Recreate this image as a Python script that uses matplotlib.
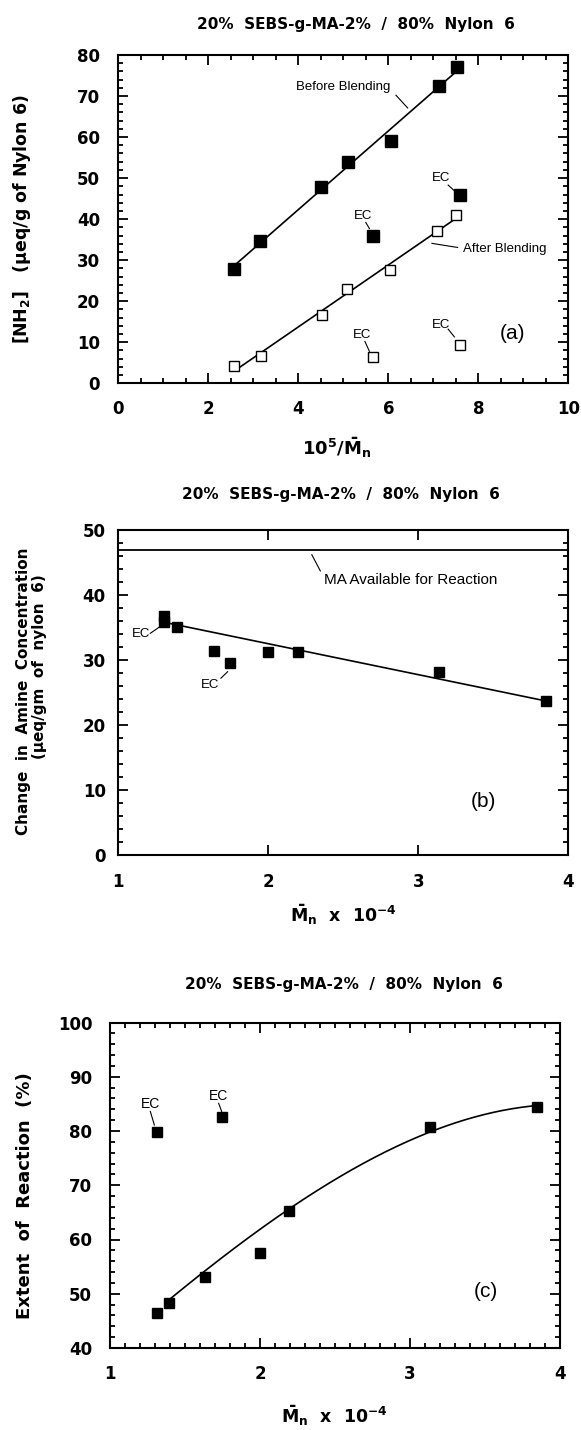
import numpy as np
import matplotlib
matplotlib.use("Agg")
import matplotlib.pyplot as plt
from matplotlib.ticker import MultipleLocator

plt.rcParams['font.family'] = ['DejaVu Sans']
plt.rcParams['mathtext.fontset'] = 'dejavusans'
plt.rcParams['mathtext.default'] = 'bf'

TITLE = "20%  SEBS-g-MA-2%  /  80%  Nylon  6"
ANN_FONT = ['Liberation Sans', 'DejaVu Sans']

# ---- Panel (a) data ----
a_before_x = [2.56, 3.15, 4.50, 5.10, 6.06, 7.12, 7.53]
a_before_y = [27.9, 34.7, 47.9, 54.0, 59.0, 72.5, 77.1]
a_before_ec_x = [5.67, 7.59]
a_before_ec_y = [35.8, 46.0]
a_after_x = [2.58, 3.16, 4.53, 5.08, 6.04, 7.08, 7.50]
a_after_y = [4.2, 6.7, 16.7, 22.9, 27.6, 37.1, 41.1]
a_after_ec_x = [5.67, 7.59]
a_after_ec_y = [6.3, 9.4]

# ---- Panel (b) data ----
b_x = [1.307, 1.39, 1.64, 2.0, 2.2, 3.135, 3.85]
b_y = [36.8, 35.1, 31.4, 31.3, 31.3, 28.1, 23.7]
b_ec_x = [1.307, 1.747]
b_ec_y = [35.9, 29.5]
b_fit_x = [1.307, 3.85]
b_fit_y = [35.8, 23.7]
b_ma_available = 47.0

# ---- Panel (c) data ----
c_x = [1.311, 1.389, 1.632, 1.996, 2.192, 3.133, 3.846]
c_y = [46.4, 48.3, 53.1, 57.6, 65.3, 80.8, 84.4]
c_ec_x = [1.309, 1.743]
c_ec_y = [79.9, 82.6]
c_curve_x = [1.39, 1.63, 2.0, 2.19, 2.45, 2.895, 3.133, 3.45, 3.695, 3.846]
c_curve_y = [48.6, 54.4, 62.4, 65.5, 69.8, 76.3, 80.5, 82.9, 84.2, 84.5]

W, H = 581, 1430
fig = plt.figure(figsize=(W / 100, H / 100), dpi=100)


def fx(px):
    return px / W


def fy(py):
    return 1 - py / H


def axes_px(left, top, right, bottom):
    return fig.add_axes([fx(left), fy(bottom), (right - left) / W, (bottom - top) / H])


TICK_FS = 12
ANN_FS = 9.5


def style_axes(ax, xpad, ypad):
    for s in ax.spines.values():
        s.set_linewidth(1.5)
    ax.tick_params(which='both', direction='in', top=True, right=True,
                   width=1.3, labelsize=TICK_FS)
    ax.tick_params(which='major', length=7)
    ax.tick_params(which='minor', length=3.5)
    ax.tick_params(axis='x', pad=xpad)
    ax.tick_params(axis='y', pad=ypad)
    for lab in ax.get_xticklabels() + ax.get_yticklabels():
        lab.set_fontweight('bold')


def ann(ax, x, y, s, fs=ANN_FS, ha='center'):
    ax.text(x, y, s, fontsize=fs, ha=ha, va='center', family=ANN_FONT)


def leader(ax, p0, p1):
    ax.plot([p0[0], p1[0]], [p0[1], p1[1]], color='black', lw=0.8)


def ec(ax, txt_xy, p0, p1, fs=ANN_FS):
    ann(ax, txt_xy[0], txt_xy[1], "EC", fs=fs)
    leader(ax, p0, p1)


def title(xc, yc):
    fig.text(fx(xc), fy(yc), TITLE, fontsize=11, fontweight='bold',
             ha='center', va='center')


# ================= Panel (a) =================
ax = axes_px(118.3, 55, 568.3, 383.3)
ax.set_xlim(0, 10)
ax.set_ylim(0, 80)
ax.xaxis.set_major_locator(MultipleLocator(2))
ax.xaxis.set_minor_locator(MultipleLocator(0.5))
ax.yaxis.set_major_locator(MultipleLocator(10))
ax.yaxis.set_minor_locator(MultipleLocator(2))

pb = np.polyfit(a_before_x, a_before_y, 1)
xs = np.array([a_before_x[0], a_before_x[-1]])
ax.plot(xs, np.polyval(pb, xs), color='black', lw=1.2)
pa = np.polyfit(a_after_x, a_after_y, 1)
xs = np.array([a_after_x[0], a_after_x[-1]])
ax.plot(xs, np.polyval(pa, xs), color='black', lw=1.2)

ax.plot(a_before_x, a_before_y, 's', color='black', ms=8)
ax.plot(a_before_ec_x, a_before_ec_y, 's', color='black', ms=8)
ax.plot(a_after_x, a_after_y, 's', mfc='white', mec='black', mew=1.0, ms=7.3)
ax.plot(a_after_ec_x, a_after_ec_y, 's', mfc='white', mec='black', mew=1.0, ms=7.3)

ann(ax, 4.99, 72.2, "Before Blending")
leader(ax, (6.17, 70.2), (6.43, 67.1))
ann(ax, 8.58, 32.7, "After Blending")
leader(ax, (7.54, 33.1), (6.97, 34.1))
ec(ax, (5.43, 40.8), (5.50, 39.2), (5.58, 37.7))
ec(ax, (7.17, 50.0), (7.33, 48.3), (7.47, 46.9))
ec(ax, (5.41, 11.8), (5.48, 10.2), (5.58, 7.8))
ec(ax, (7.17, 14.3), (7.33, 13.2), (7.47, 11.3))
ann(ax, 8.76, 12.2, "(a)", fs=15)
style_axes(ax, xpad=12, ypad=13)

title(356, 25)
fig.text(fx(337), fy(455), r"10$^{5}$/$\bar{M}_{n}$", fontsize=13, fontweight='bold',
         ha='center', va='baseline')
fig.text(fx(22), fy(219), r"[NH$_{2}$]   (μeq/g of Nylon 6)", fontsize=12.5,
         fontweight='bold', rotation=90, ha='center', va='center')

# ================= Panel (b) =================
ax = axes_px(118.3, 530, 568.3, 855)
ax.set_xlim(1, 4)
ax.set_ylim(0, 50)
ax.xaxis.set_major_locator(MultipleLocator(1))
ax.yaxis.set_major_locator(MultipleLocator(10))
ax.yaxis.set_minor_locator(MultipleLocator(2))

ax.axhline(b_ma_available, color='black', lw=1.3)
ax.plot(b_fit_x, b_fit_y, color='black', lw=1.2)
ax.plot(b_x, b_y, 's', color='black', ms=7.5)
ax.plot(b_ec_x, b_ec_y, 's', color='black', ms=7.5)

ann(ax, 2.373, 42.3, "MA Available for Reaction", fs=11, ha='left')
leader(ax, (2.29, 46.2), (2.347, 43.7))
ec(ax, (1.151, 34.0), (1.213, 34.1), (1.269, 35.0))
ec(ax, (1.611, 26.2), (1.684, 27.2), (1.729, 28.2))
ann(ax, 3.436, 8.2, "(b)", fs=15)
style_axes(ax, xpad=13, ypad=9)

title(341, 495)
fig.text(fx(343), fy(922), r"$\bar{M}_{n}$  x  10$^{-4}$", fontsize=12.5, fontweight='bold',
         ha='center', va='baseline')
fig.text(fx(23.5), fy(691), "Change  in  Amine  Concentration", fontsize=11,
         fontweight='bold', rotation=90, ha='center', va='center')
fig.text(fx(40), fy(667), "(μeq/gm  of  nylon  6)", fontsize=11,
         fontweight='bold', rotation=90, ha='center', va='center')

# ================= Panel (c) =================
ax = axes_px(110.3, 1022.5, 560, 1348)
ax.set_xlim(1, 4)
ax.set_ylim(40, 100)
ax.xaxis.set_major_locator(MultipleLocator(1))
ax.xaxis.set_minor_locator(MultipleLocator(0.1))
ax.yaxis.set_major_locator(MultipleLocator(10))
ax.yaxis.set_minor_locator(MultipleLocator(2))

pc = np.polyfit(c_curve_x, c_curve_y, 3)
xs = np.linspace(c_curve_x[0], c_curve_x[-1], 200)
ax.plot(xs, np.polyval(pc, xs), color='black', lw=1.2)
ax.plot(c_x, c_y, 's', color='black', ms=7)
ax.plot(c_ec_x, c_ec_y, 's', color='black', ms=7)

ec(ax, (1.271, 85.0), (1.267, 83.6), (1.294, 81.1), fs=10)
ec(ax, (1.72, 86.4), (1.723, 85.1), (1.743, 83.6), fs=10)
ann(ax, 3.506, 50.4, "(c)", fs=15)
style_axes(ax, xpad=12, ypad=13)

title(344, 985)
fig.text(fx(334), fy(1423), r"$\bar{M}_{n}$  x  10$^{-4}$", fontsize=12.5, fontweight='bold',
         ha='center', va='baseline')
fig.text(fx(25), fy(1196), "Extent  of  Reaction  (%)", fontsize=13,
         fontweight='bold', rotation=90, ha='center', va='center')

fig.savefig("out.png", dpi=100)
